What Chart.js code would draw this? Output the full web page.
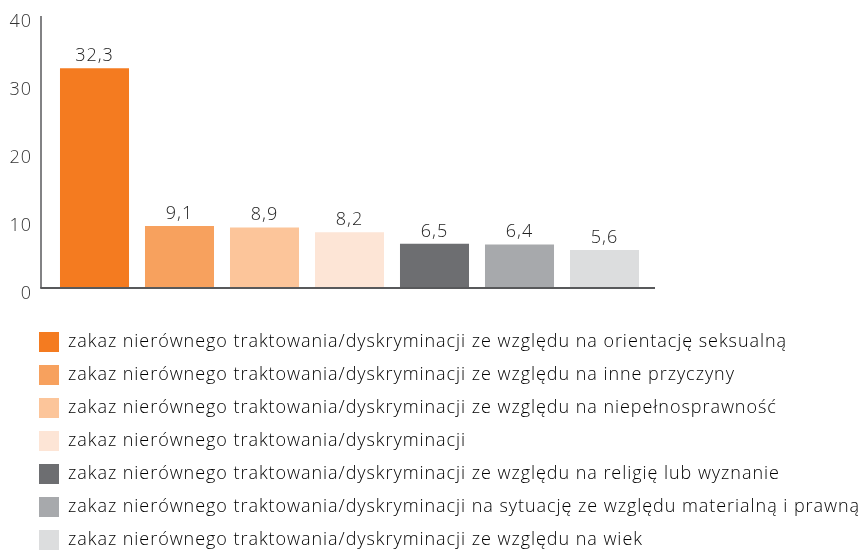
<!DOCTYPE html>
<html>
<head>
<meta charset="utf-8">
<script src="https://cdn.jsdelivr.net/npm/chart.js@4"></script>
<style>
  html, body { margin: 0; padding: 0; background: #fff; overflow: hidden; }
  #wrap { width: 862px; height: 560px; position: relative; }
</style>
</head>
<body>
<div id="wrap"><canvas id="chart"></canvas></div>
<script>
// dane
const categories = [
    "zakaz nierównego traktowania/dyskryminacji ze względu na orientację seksualną",
    "zakaz nierównego traktowania/dyskryminacji ze względu na inne przyczyny",
    "zakaz nierównego traktowania/dyskryminacji ze względu na niepełnosprawność",
    "zakaz nierównego traktowania/dyskryminacji",
    "zakaz nierównego traktowania/dyskryminacji ze względu na religię lub wyznanie",
    "zakaz nierównego traktowania/dyskryminacji na sytuację ze względu materialną i prawną",
    "zakaz nierównego traktowania/dyskryminacji ze względu na wiek"
];
const values = [32.3, 9.1, 8.9, 8.2, 6.5, 6.4, 5.6];
const barColors = ["#f47b20", "#f7a15e", "#fcc59a", "#fde5d6", "#6d6e71", "#a7a9ac", "#dcddde"];
const yTicks = [0, 10, 20, 30, 40];

const FONT = "'Open Sans', sans-serif";
const WEIGHT = 300;

// szerszy tekst (jak w oryginale)
const spacing = {
    id: "spacing",
    beforeDraw(chart) {
        chart.ctx.letterSpacing = "0.95px";
    }
};

// osie rysowane ręcznie (wystają poza obszar słupków)
const axisLines = {
    id: "axisLines",
    afterDatasetsDraw(chart) {
        const { ctx, chartArea } = chart;
        const y = chart.scales.y;
        const top = y.getPixelForValue(40);
        const bottom = y.getPixelForValue(0);
        ctx.save();
        ctx.strokeStyle = "#58595b";
        ctx.lineWidth = 1.5;
        ctx.beginPath();
        ctx.moveTo(chartArea.left - 11, top);
        ctx.lineTo(chartArea.left - 11, bottom);
        ctx.stroke();
        ctx.lineWidth = 2;
        ctx.beginPath();
        ctx.moveTo(chartArea.left - 11.75, bottom);
        ctx.lineTo(chartArea.right + 8, bottom);
        ctx.stroke();
        ctx.restore();
    }
};

// etykiety wartości nad słupkami
const valueLabels = {
    id: "valueLabels",
    afterDatasetsDraw(chart) {
        const { ctx } = chart;
        const meta = chart.getDatasetMeta(0);
        ctx.save();
        ctx.font = WEIGHT + " 18px " + FONT;
        ctx.fillStyle = "#222";
        ctx.textAlign = "center";
        ctx.textBaseline = "alphabetic";
        meta.data.forEach((bar, i) => {
            const txt = values[i].toFixed(1).replace(".", ",");
            ctx.fillText(txt, bar.x, bar.y - 7);
        });
        ctx.restore();
    }
};

// legenda na całą szerokość, od x=26
const legendBox = {
    id: "legendBox",
    afterLayout(chart) {
        const lg = chart.legend;
        lg.left = 26;
        lg.right = chart.width;
        lg.width = lg.right - lg.left;
    }
};

new Chart(document.getElementById("chart"), {
    type: "bar",
    data: {
        labels: categories,
        datasets: [{
            data: values,
            backgroundColor: barColors,
            borderWidth: 0,
            barPercentage: 0.812,
            categoryPercentage: 1
        }]
    },
    options: {
        responsive: true,
        maintainAspectRatio: false,
        animation: false,
        layout: { padding: { left: 8, right: 215, top: 16, bottom: 0 } },
        plugins: {
            tooltip: { enabled: false },
            legend: {
                position: "bottom",
                align: "start",
                onClick: null,
                labels: {
                    boxWidth: 20,
                    boxHeight: 20,
                    padding: 13,
                    color: "#222",
                    font: { family: FONT, size: 18, weight: WEIGHT },
                    generateLabels: () => categories.map((c, i) => ({
                        text: c,
                        fillStyle: barColors[i],
                        strokeStyle: barColors[i],
                        lineWidth: 0,
                        hidden: false,
                        index: i
                    }))
                }
            }
        },
        scales: {
            x: {
                ticks: { display: false },
                grid: { display: false, drawTicks: false },
                border: { display: false },
                afterFit: s => { s.height = 31; }
            },
            y: {
                min: 0,
                max: 40,
                afterBuildTicks: s => { s.ticks = yTicks.map(v => ({ value: v })); },
                afterFit: s => { s.width = 44; s.paddingTop = 0; s.paddingBottom = 0; },
                grid: { display: false, drawTicks: false },
                border: { display: false },
                ticks: {
                    padding: 20,
                    labelOffset: 6,
                    color: "#333",
                    font: { family: FONT, size: 18, weight: WEIGHT }
                }
            }
        }
    },
    plugins: [spacing, axisLines, valueLabels, legendBox]
});
</script>
</body>
</html>
